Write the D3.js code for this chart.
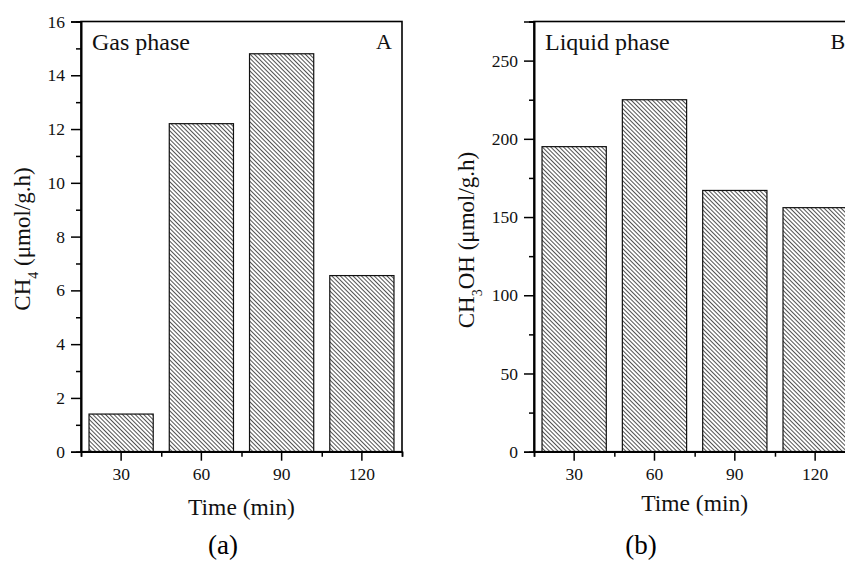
<!DOCTYPE html>
<html>
<head>
<meta charset="utf-8">
<script src="https://cdn.jsdelivr.net/npm/d3@7"></script>
<style>
  body { margin: 0; background: #fff; }
  svg text { font-family: "Liberation Serif", "Times New Roman", Times, serif !important; }
</style>
</head>
<body>
<div id="chart"></div>
<script>
// data
const times = ["30", "60", "90", "120"];
const ch4Rate = [1.4, 12.2, 14.8, 6.55];
const ch3ohRate = [195, 225, 167, 156];
const ch4Ticks = [0, 2, 4, 6, 8, 10, 12, 14, 16];
const ch4Minor = [1, 3, 5, 7, 9, 11, 13, 15];
const ch3ohTicks = [0, 50, 100, 150, 200, 250];
const ch3ohMinor = [25, 75, 125, 175, 225, 275];

const width = 845, height = 562;
const plotTop = 21.5, plotBottom = 451.7;
const serif = "Liberation Serif";

const svg = d3.select("#chart").append("svg")
  .attr("width", width)
  .attr("height", height);

const defs = svg.append("defs");
defs.append("pattern")
  .attr("id", "hatch")
  .attr("patternUnits", "userSpaceOnUse")
  .attr("width", 3)
  .attr("height", 3)
  .attr("patternTransform", "rotate(-45)")
  .append("line")
  .attr("x1", 0.5).attr("y1", 0)
  .attr("x2", 0.5).attr("y2", 3)
  .attr("stroke", "#333")
  .attr("stroke-width", 0.85);

const drawPanel = (cfg) => {
  const x = d3.scaleBand()
    .domain(times)
    .range([cfg.left, cfg.right])
    .paddingInner(0.2)
    .paddingOuter(0.1);
  const xEdge = d3.scaleLinear().domain([0, times.length]).range([cfg.left, cfg.right]);
  const y = d3.scaleLinear().domain(cfg.domain).range([plotBottom, plotTop]);

  const g = svg.append("g");

  g.selectAll("rect.bar")
    .data(cfg.values)
    .enter()
    .append("rect")
    .attr("class", "bar")
    .attr("x", (d, i) => x(times[i]))
    .attr("y", (d) => y(d))
    .attr("width", x.bandwidth())
    .attr("height", (d) => plotBottom - y(d))
    .attr("fill", "url(#hatch)")
    .attr("stroke", "#111")
    .attr("stroke-width", 1.2);

  // frame
  g.append("rect")
    .attr("x", cfg.left)
    .attr("y", plotTop)
    .attr("width", cfg.right - cfg.left)
    .attr("height", plotBottom - plotTop)
    .attr("fill", "none")
    .attr("stroke", "#000")
    .attr("stroke-width", 1.6);

  g.append("g")
    .attr("transform", `translate(${cfg.left},0)`)
    .call(d3.axisLeft(y).tickValues(cfg.ticks).tickSize(10).tickPadding(6).tickFormat(d3.format("d")));
  g.append("g")
    .attr("transform", `translate(${cfg.left},0)`)
    .call(d3.axisLeft(y).tickValues(cfg.minor).tickSize(5).tickFormat(""));

  g.append("g")
    .attr("transform", `translate(0,${plotBottom})`)
    .call(d3.axisBottom(x).tickSize(9).tickPadding(7).tickSizeOuter(0));
  g.append("g")
    .attr("transform", `translate(0,${plotBottom})`)
    .call(d3.axisBottom(xEdge).tickValues(d3.range(times.length + 1)).tickSize(5).tickFormat(""));

  g.selectAll("g").attr("font-family", serif);
  g.selectAll(".domain").attr("stroke", "#000").attr("stroke-width", 1.6);
  g.selectAll(".tick line").attr("stroke", "#000").attr("stroke-width", 1.5);
  g.selectAll(".tick text")
    .attr("font-family", serif)
    .attr("font-size", 17.5)
    .attr("fill", "#111");

  // axis titles
  g.append("text")
    .attr("x", (cfg.left + cfg.right) / 2)
    .attr("y", cfg.xTitleY)
    .attr("text-anchor", "middle")
    .attr("font-family", serif)
    .attr("font-size", 23.5)
    .attr("fill", "#111")
    .text("Time (min)");

  const yt = g.append("text")
    .attr("transform", "rotate(-90)")
    .attr("x", -cfg.yTitleMid)
    .attr("y", cfg.yTitleX)
    .attr("text-anchor", "middle")
    .attr("font-family", serif)
    .attr("font-size", 23)
    .attr("fill", "#111");
  cfg.yTitle.forEach((part) => {
    const t = yt.append("tspan").text(part.t);
    if (part.sub) t.attr("baseline-shift", "sub").attr("font-size", 14);
  });

  g.append("text")
    .attr("x", cfg.left + 11)
    .attr("y", 50)
    .attr("font-family", serif)
    .attr("font-size", 24)
    .attr("fill", "#111")
    .text(cfg.phase);

  g.append("text")
    .attr("x", cfg.right - 10)
    .attr("y", 49)
    .attr("text-anchor", "end")
    .attr("font-family", serif)
    .attr("font-size", 22)
    .attr("fill", "#111")
    .text(cfg.letter);

  g.append("text")
    .attr("x", cfg.capX)
    .attr("y", 554)
    .attr("text-anchor", "middle")
    .attr("font-family", serif)
    .attr("font-size", 27)
    .attr("fill", "#000")
    .text(cfg.caption);
};

drawPanel({
  left: 81, right: 402, domain: [0, 16], values: ch4Rate,
  ticks: ch4Ticks, minor: ch4Minor,
  xTitleY: 515, yTitleMid: 239, yTitleX: 29.5,
  yTitle: [{ t: "CH" }, { t: "4", sub: true }, { t: " (μmol/g.h)" }],
  phase: "Gas phase", letter: "A", capX: 223, caption: "(a)"
});

drawPanel({
  left: 534, right: 855.3, domain: [0, 275], values: ch3ohRate,
  ticks: ch3ohTicks, minor: ch3ohMinor,
  xTitleY: 511, yTitleMid: 240, yTitleX: 474,
  yTitle: [{ t: "CH" }, { t: "3", sub: true }, { t: "OH (μmol/g.h)" }],
  phase: "Liquid phase", letter: "B", capX: 641, caption: "(b)"
});
</script>
</body>
</html>
